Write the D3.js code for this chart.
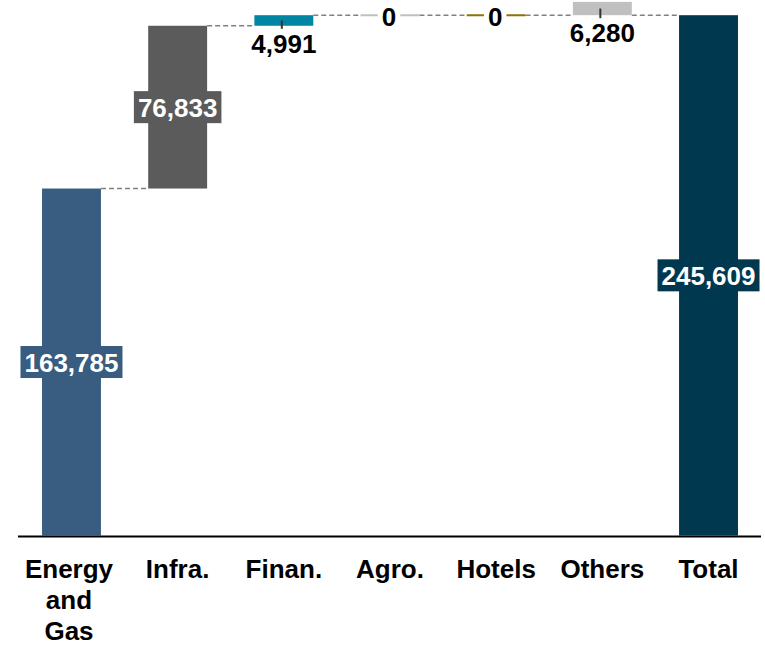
<!DOCTYPE html>
<html>
<head>
<meta charset="utf-8">
<script src="https://cdn.jsdelivr.net/npm/d3@7"></script>
<style>
  html, body { margin: 0; padding: 0; background: #fff; }
  svg { display: block; font-family: "Liberation Sans", Arial, sans-serif; }
</style>
</head>
<body>
<svg id="chart" width="765" height="645"></svg>
<script>
// Waterfall: sector contributions and the overall total
const categories = ["Energy and Gas", "Infra.", "Finan.", "Agro.", "Hotels", "Others", "Total"];
const values = [163785, 76833, 4991, 0, 0, 6280, 245609];
const isTotal = [false, false, false, false, false, false, true];
const colors = ["#385d80", "#5b5b5b", "#0086a3", "#c0c0c0", "#8b7500", "#c0c0c0", "#00384f"];
// labels drawn inside the bar (white on bar colour) vs. below the bar (black)
const insideLabel = [true, true, false, false, false, false, true];

const svg = d3.select("#chart");
const fmt = d3.format(",");

const x = d3.scaleBand().domain(categories).range([18.4, 761.6]).paddingInner(0.445).paddingOuter(0.2225);
const y = d3.scaleLinear().domain([0, 252780]).range([535.5, 0]);

// running start/end for each step
let running = 0;
const bars = categories.map((c, i) => {
  let start, end;
  if (isTotal[i]) { start = 0; end = values[i]; }
  else if (c === "Others") { start = running; end = running + values[i]; }
  else { start = running; end = running + values[i]; running = end; }
  return { cat: c, value: values[i], start, end, color: colors[i], inside: insideLabel[i] };
});

// connectors: from right edge of one bar to left edge of next, at the next bar's starting level
const conn = svg.append("g");
for (let i = 0; i < bars.length - 1; i++) {
  const next = bars[i + 1];
  const level = isTotal[i + 1] ? next.end : next.start;
  conn.append("line")
    .attr("x1", x(bars[i].cat) + x.bandwidth())
    .attr("x2", x(next.cat))
    .attr("y1", y(level)).attr("y2", y(level))
    .attr("stroke", "#808080").attr("stroke-width", 1.6)
    .attr("stroke-dasharray", "5,3");
}

// bars
const g = svg.append("g");
bars.forEach(b => {
  const top = y(Math.max(b.start, b.end));
  const bot = y(Math.min(b.start, b.end));
  if (b.value === 0) {
    g.append("line")
      .attr("x1", x(b.cat)).attr("x2", x(b.cat) + x.bandwidth())
      .attr("y1", top).attr("y2", top)
      .attr("stroke", b.color).attr("stroke-width", 2);
  } else {
    g.append("rect")
      .attr("x", x(b.cat)).attr("width", x.bandwidth())
      .attr("y", top).attr("height", bot - top)
      .attr("fill", b.color);
  }
});

// baseline
svg.append("line")
  .attr("x1", 18).attr("x2", 761)
  .attr("y1", y(0) + 1).attr("y2", y(0) + 1)
  .attr("stroke", "#000").attr("stroke-width", 2);

// value labels
const lab = svg.append("g").attr("font-weight", "bold").attr("font-size", 26);
bars.forEach(b => {
  const cx = x(b.cat) + x.bandwidth() / 2;
  const top = y(Math.max(b.start, b.end));
  const bot = y(Math.min(b.start, b.end));
  const txt = fmt(b.value);
  if (b.inside) {
    const cy = (top + bot) / 2;
    const t = lab.append("text")
      .attr("x", cx).attr("y", cy + 9.5)
      .attr("text-anchor", "middle").attr("fill", "#fff").text(txt);
    const bb = t.node().getBBox();
    lab.insert("rect", () => t.node())
      .attr("x", bb.x - 4).attr("width", bb.width + 8)
      .attr("y", cy - 16).attr("height", 32)
      .attr("fill", b.color);
  } else if (b.value === 0) {
    const t = lab.append("text")
      .attr("x", cx - 1).attr("y", top + 10.5)
      .attr("text-anchor", "middle").attr("fill", "#000").text(txt);
    const bb = t.node().getBBox();
    lab.insert("rect", () => t.node())
      .attr("x", bb.x - 4).attr("width", bb.width + 8)
      .attr("y", top - 4).attr("height", 8)
      .attr("fill", "#fff");
  } else {
    // short leader tick from bar middle down to the label
    lab.append("line")
      .attr("x1", cx - 2).attr("x2", cx - 2)
      .attr("y1", (top + bot) / 2).attr("y2", bot + 3)
      .attr("stroke", "#333").attr("stroke-width", 2);
    lab.append("text")
      .attr("x", cx).attr("y", bot + 27)
      .attr("text-anchor", "middle").attr("fill", "#000").text(txt);
  }
});

// category axis labels (wrapped by word for the long one)
const axisG = svg.append("g").attr("font-weight", "bold").attr("font-size", 26).attr("fill", "#000");
categories.forEach(c => {
  const cx = x(c) + x.bandwidth() / 2;
  const words = c.split(" ");
  const lines = words.length > 2 ? words : [c];
  const t = axisG.append("text").attr("text-anchor", "middle");
  lines.forEach((w, k) => {
    t.append("tspan").attr("x", cx - (lines.length > 1 ? 2.5 : 0)).attr("y", 578 + k * 31).text(w);
  });
});
</script>
</body>
</html>
